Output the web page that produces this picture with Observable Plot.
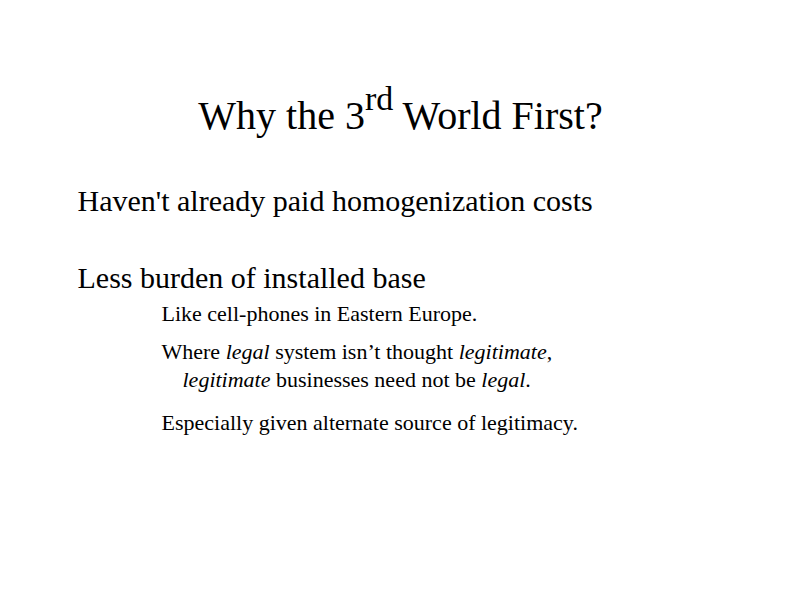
<!DOCTYPE html>
<html><head><meta charset="utf-8">
<script src="https://cdn.jsdelivr.net/npm/d3@7"></script>
<script src="https://cdn.jsdelivr.net/npm/@observablehq/plot@0.6"></script>
<style>body{margin:0;background:#fff}</style>
</head><body><div id="chart"></div>
<script>
// slide lines; *x* = italic, ^x^ = superscript
const lines = [
  "Why the 3^rd^ World First?",
  "Haven't already paid homogenization costs",
  "Less burden of installed base",
  "Like cell-phones in Eastern Europe.",
  "Where *legal* system isn\u2019t thought *legitimate*,",
  "*legitimate* businesses need not be *legal*.",
  "Especially given alternate source of legitimacy."
]
const levels = [0, 1, 1, 2, 2, 3, 2]
const rows = [128, 210, 287, 320, 358, 386, 429]

const data = lines.map((t, i) => ({text: t, level: levels[i], row: rows[i]}))
const xs = {0: 400, 1: 77, 2: 161, 3: 182}
const sizes = {0: 40, 1: 30, 2: 22, 3: 22}

const opts = {
  x: d => xs[d.level], y: "row", text: "text",
  lineAnchor: "bottom",
  fontSize: d => sizes[d.level],
  fontFamily: "Liberation Serif",
  fill: "black"
}

let chart = Plot.plot({
  width: 800, height: 600,
  margin: 0,
  x: {domain: [0, 800], axis: null},
  y: {domain: [600, 0], axis: null},
  marks: [
    Plot.text(data.filter(d => d.level === 0), {...opts, textAnchor: "middle"}),
    Plot.text(data.filter(d => d.level > 0), {...opts, textAnchor: "start"})
  ],
  style: {background: "white"}
})

d3.select(chart).selectAll("text").each(function () {
  const el = d3.select(this)
  const raw = el.text()
  if (!/[*^]/.test(raw)) return
  el.text(null)
  let reset = false
  raw.split(/(\*[^*]+\*|\^[^^]+\^)/).filter(s => s).forEach(s => {
    let t
    if (s[0] === "*") t = el.append("tspan").attr("font-style", "italic").text(s.slice(1, -1))
    else if (s[0] === "^") {
      el.append("tspan").attr("dy", "-0.55em").attr("font-size", "0.85em").text(s.slice(1, -1))
      reset = true
      return
    } else t = el.append("tspan").text(s)
    if (reset) { t.attr("dy", "0.4675em"); reset = false }
  })
})
d3.select('#chart').append(() => chart)
</script></body></html>
